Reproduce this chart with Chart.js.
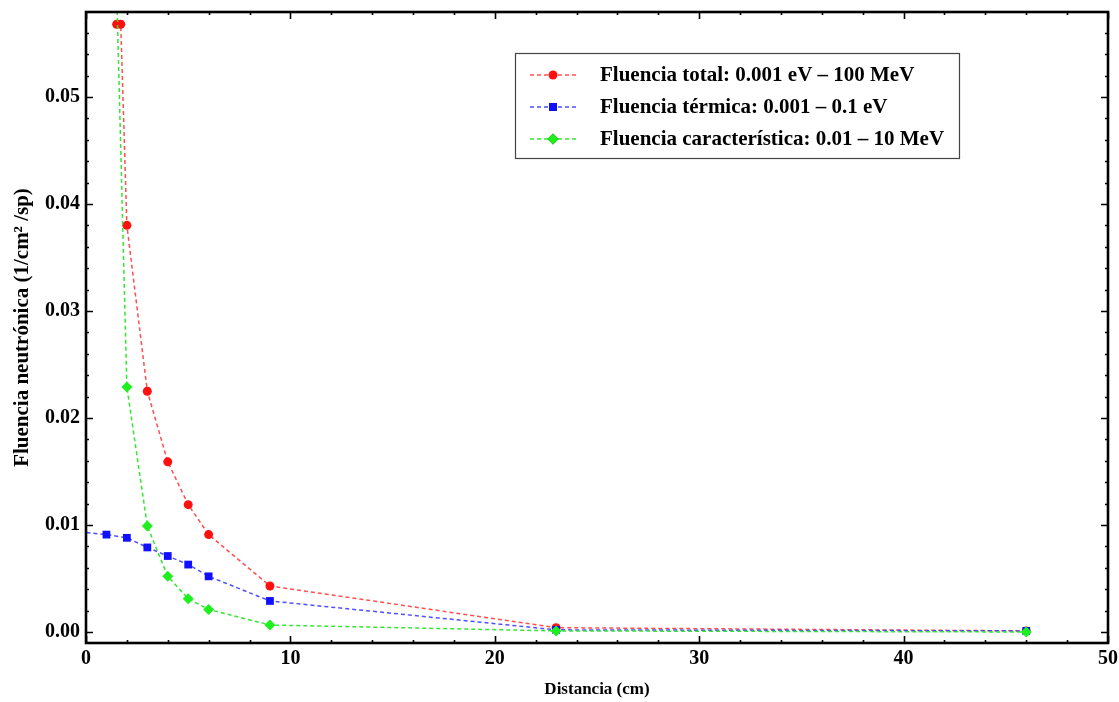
<!DOCTYPE html>
<html>
<head>
<meta charset="utf-8">
<script src="https://cdn.jsdelivr.net/npm/chart.js@4.4.1/dist/chart.umd.min.js"></script>
<style>
  html, body { margin: 0; background: #fff; }
  #wrap { width: 1119px; height: 702px; }
</style>
</head>
<body>
<div id="wrap"><canvas id="chart"></canvas></div>
<script>
// datos
const totalX   = [1.5, 1.7, 2, 3, 4, 5, 6, 9, 23, 46];
const totalY   = [0.0568, 0.0568, 0.0380, 0.0225, 0.0159, 0.0119, 0.0091, 0.0043, 0.0004, 0.0001];
const termicaX = [-1, 1, 2, 3, 4, 5, 6, 9, 23, 46];
const termicaY = [0.0095, 0.0091, 0.0088, 0.0079, 0.0071, 0.0063, 0.0052, 0.0029, 0.0002, 0.0001];
const caractX  = [1.5, 2, 3, 4, 5, 6, 9, 23, 46];
const caractY  = [0.0600, 0.0229, 0.0099, 0.0052, 0.0031, 0.0021, 0.00065, 0.0001, 0.0000];

const xTicks = [0, 10, 20, 30, 40, 50];
const yTicks = [0.00, 0.01, 0.02, 0.03, 0.04, 0.05];
const xMinorStep = 2;
const yMinorStep = 0.002;

const labels = [
  'Fluencia total: 0.001 eV \u2013 100 MeV',
  'Fluencia t\u00e9rmica: 0.001 \u2013 0.1 eV',
  'Fluencia caracter\u00edstica: 0.01 \u2013 10 MeV'
];

const serif = "'Liberation Serif', 'DejaVu Serif', serif";

function pts(xs, ys) {
  return xs.map((x, i) => ({ x: x, y: ys[i] }));
}

// marco con marcas hacia dentro, como en Mathematica
const framePlugin = {
  id: 'frame',
  afterDatasetsDraw(chart) {
    const ctx = chart.ctx;
    const a = chart.chartArea;
    const xs = chart.scales.x, ys = chart.scales.y;
    ctx.save();
    ctx.strokeStyle = '#000';
    ctx.lineWidth = 1.6;
    ctx.beginPath();
    for (let v = xs.min; v <= xs.max + 1e-9; v += xMinorStep) {
      const p = Math.round(xs.getPixelForValue(v)) + 0.5;
      const len = xTicks.some(t => Math.abs(t - v) < 1e-9) ? 7 : 3;
      ctx.moveTo(p, a.bottom); ctx.lineTo(p, a.bottom - len);
      ctx.moveTo(p, a.top); ctx.lineTo(p, a.top + len);
    }
    for (let v = 0; v <= ys.max + 1e-9; v += yMinorStep) {
      const p = Math.round(ys.getPixelForValue(v)) + 0.5;
      const len = yTicks.some(t => Math.abs(t - v) < 1e-9) ? 7 : 3;
      ctx.moveTo(a.left, p); ctx.lineTo(a.left + len, p);
      ctx.moveTo(a.right, p); ctx.lineTo(a.right - len, p);
    }
    ctx.stroke();
    ctx.lineWidth = 2.6;
    ctx.strokeRect(a.left, a.top, a.right - a.left, a.bottom - a.top);
    ctx.restore();
  }
};

// leyenda en caja dentro del área
const boxLegend = {
  id: 'boxLegend',
  afterDraw(chart) {
    const ctx = chart.ctx;
    const bx = 515, by = 53, bw = 444, bh = 105;
    ctx.save();
    ctx.fillStyle = '#fff';
    ctx.fillRect(bx, by, bw, bh);
    ctx.strokeStyle = '#444';
    ctx.lineWidth = 1.2;
    ctx.strokeRect(bx + 0.5, by + 0.5, bw, bh);
    chart.data.datasets.forEach((ds, i) => {
      const y = by + 22 + i * 32;
      ctx.setLineDash([4, 3]);
      ctx.strokeStyle = ds.borderColor;
      ctx.lineWidth = 1.5;
      ctx.beginPath();
      ctx.moveTo(530, y); ctx.lineTo(578, y);
      ctx.stroke();
      ctx.setLineDash([]);
      Chart.helpers.drawPoint(ctx, {
        pointStyle: ds.pointStyle, radius: ds.pointRadius, borderWidth: 0
      }, 553, y);
      ctx.fillStyle = ds.pointBackgroundColor;
      ctx.fill();
      ctx.fillStyle = '#000';
      ctx.font = 'bold 21px ' + serif;
      ctx.textBaseline = 'middle';
      ctx.fillText(ds.label, 600, y + 1);
    });
    ctx.restore();
  }
};

function series(label, data, line, point, style, r, order) {
  return {
    label: label,
    data: data,
    borderColor: line,
    borderWidth: 1.5,
    borderDash: [4, 3],
    pointStyle: style,
    pointRadius: r,
    pointHoverRadius: r,
    pointBackgroundColor: point,
    pointBorderColor: point,
    pointBorderWidth: 0,
    tension: 0,
    clip: 0,
    order: order
  };
}

new Chart(document.getElementById('chart'), {
  type: 'scatter',
  data: {
    datasets: [
      series(labels[0], pts(totalX, totalY), 'rgba(255,70,70,0.95)', '#ff1010', 'circle', 4.5, 2),
      series(labels[1], pts(termicaX, termicaY), 'rgba(70,70,255,0.95)', '#1010ff', 'rect', 5.5, 1),
      series(labels[2], pts(caractX, caractY), 'rgba(40,230,40,0.95)', '#1ef01e', 'rectRot', 5.5, 0)
    ].map(d => Object.assign(d, { showLine: true }))
  },
  options: {
    responsive: true,
    maintainAspectRatio: false,
    animation: false,
    layout: { padding: { left: 0, top: 12, right: 11, bottom: 0 } },
    plugins: {
      legend: { display: false },
      tooltip: { enabled: false }
    },
    scales: {
      x: {
        type: 'linear',
        min: 0,
        max: 50,
        afterFit(s) { s.height = 59; s.paddingLeft = 0; s.paddingRight = 0; },
        afterBuildTicks(s) { s.ticks = xTicks.map(v => ({ value: v })); },
        grid: { display: false, drawTicks: false },
        border: { display: false },
        ticks: {
          autoSkip: false,
          maxRotation: 0,
          padding: 4,
          color: '#000',
          font: { family: serif, size: 20, weight: 'bold' },
          callback: v => String(v)
        },
        title: {
          display: true,
          text: 'Distancia (cm)',
          color: '#000',
          padding: { top: 0, bottom: 2 },
          font: { family: serif, size: 17, weight: 'bold' }
        }
      },
      y: {
        type: 'linear',
        min: -0.00103,
        max: 0.05794,
        afterFit(s) { s.width = 86; s.paddingTop = 0; s.paddingBottom = 0; },
        afterBuildTicks(s) { s.ticks = yTicks.map(v => ({ value: v })); },
        grid: { display: false, drawTicks: false },
        border: { display: false },
        ticks: {
          autoSkip: false,
          padding: 6,
          color: '#000',
          font: { family: serif, size: 20, weight: 'bold' },
          callback: v => v.toFixed(2)
        },
        title: {
          display: true,
          text: 'Fluencia neutr\u00f3nica (1/cm\u00b2 /sp)',
          color: '#000',
          padding: { top: 10, bottom: 0 },
          font: { family: serif, size: 21, weight: 'bold' }
        }
      }
    }
  },
  plugins: [framePlugin, boxLegend]
});
</script>
</body>
</html>
